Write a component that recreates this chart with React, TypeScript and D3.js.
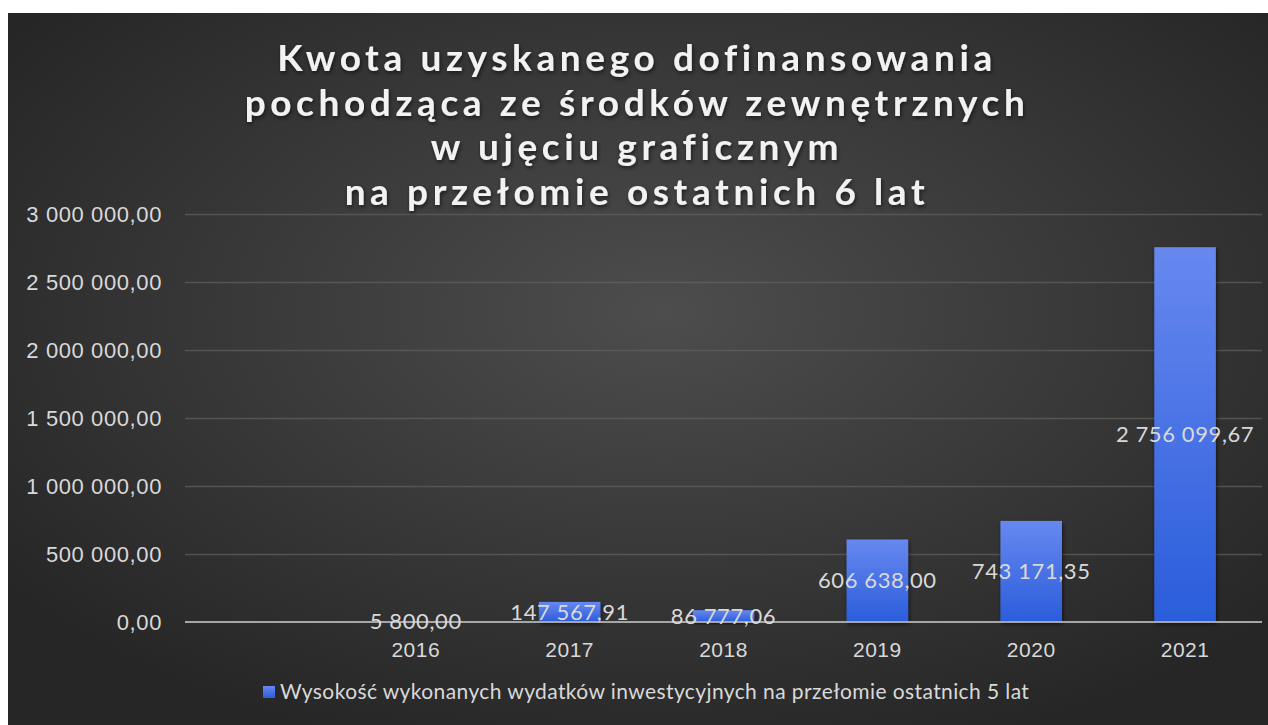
import { useRef, useEffect } from 'react'
import * as d3 from "d3"

const categories = ["", "2016", "2017", "2018", "2019", "2020", "2021"];
const values = [null, 5800.0, 147567.91, 86777.06, 606638.0, 743171.35, 2756099.67];
const yTicks = [0, 500000, 1000000, 1500000, 2000000, 2500000, 3000000];
const titleLines = [
    "Kwota uzyskanego dofinansowania",
    "pochodząca ze środków zewnętrznych",
    "w ujęciu graficznym",
    "na przełomie ostatnich 6 lat",
];
const seriesName = "Wysokość wykonanych wydatków inwestycyjnych na przełomie ostatnich 5 lat";

// format "2 756 099,67"
const fmt = (v: number) => {
    const [i, d] = v.toFixed(2).split(".");
    return i.replace(/\B(?=(\d{3})+(?!\d))/g, " ") + "," + d;
};

const App = () => {
    const svgRef = useRef<SVGSVGElement>(null);

    useEffect(() => {
        draw();
    }, []);

    const draw = () => {
        const width = 1268;
        const height = 725;
        const margin = { top: 214, left: 185, bottom: 103, right: 6 };
        const font = "Lato, 'Noto Sans', sans-serif";

        const svg = d3.select(svgRef.current).attr("width", width).attr("height", height)
            .style("position", "absolute").style("left", 0).style("top", 0)
            .style("font-family", font);
        svg.selectAll("*").remove();

        const defs = svg.append("defs");
        const bg = defs.append("radialGradient").attr("id", "bg")
            .attr("cx", "52%").attr("cy", "42%").attr("r", "65%");
        bg.append("stop").attr("offset", "0%").attr("stop-color", "#4d4d4d");
        bg.append("stop").attr("offset", "100%").attr("stop-color", "#262626");

        const barGrad = defs.append("linearGradient").attr("id", "bar")
            .attr("x1", 0).attr("y1", 0).attr("x2", 0).attr("y2", 1);
        barGrad.append("stop").attr("offset", "0%").attr("stop-color", "#6788ef");
        barGrad.append("stop").attr("offset", "100%").attr("stop-color", "#2b5ddb");

        const shadow = defs.append("filter").attr("id", "shadow")
            .attr("x", "-20%").attr("y", "-20%").attr("width", "140%").attr("height", "140%");
        shadow.append("feDropShadow").attr("dx", 1).attr("dy", 2).attr("stdDeviation", 2)
            .attr("flood-color", "#000").attr("flood-opacity", 0.6);

        svg.append("rect").attr("width", width).attr("height", height).attr("fill", "#fff");
        svg.append("rect").attr("x", 8).attr("y", 13)
            .attr("width", width - 8).attr("height", height - 13).attr("fill", "url(#bg)");

        const x = d3.scaleBand()
            .domain(categories.map((c, i) => i + ""))
            .range([margin.left, width - margin.right])
            .paddingInner(0.6)
            .paddingOuter(0.3);

        const y = d3.scaleLinear()
            .domain([0, 3000000])
            .range([height - margin.bottom, margin.top]);

        // siatka
        svg.append("g")
            .attr("transform", `translate(${margin.left}, 0)`)
            .call(d3.axisLeft(y).tickValues(yTicks.slice(1)).tickSize(-(width - margin.left - margin.right)).tickFormat(() => ""))
            .call(g => g.select(".domain").remove())
            .call(g => g.selectAll(".tick line").attr("stroke", "#5f5f5f").attr("stroke-width", 1.5).attr("stroke-opacity", 0.75));

        // słupki
        const data = values.map((v, i) => ({ i: i + "", v }));
        svg.append("g")
            .selectAll("rect")
            .data(data.filter(d => d.v !== null))
            .join("rect")
            .attr("x", d => x(d.i)!)
            .attr("y", d => y(d.v!))
            .attr("width", x.bandwidth())
            .attr("height", d => y(0) - y(d.v!))
            .attr("fill", "url(#bar)")
            .attr("filter", "url(#shadow)");

        // oś x (linia)
        svg.append("line")
            .attr("x1", margin.left).attr("x2", width - margin.right)
            .attr("y1", y(0)).attr("y2", y(0))
            .attr("stroke", "#a6a6a6").attr("stroke-width", 2);

        // etykiety osi x
        svg.append("g")
            .attr("transform", `translate(0, ${y(0)})`)
            .call(d3.axisBottom(x).tickSize(0).tickFormat(d => categories[+d]))
            .call(g => g.select(".domain").remove())
            .selectAll("text")
            .attr("y", 35)
            .attr("dy", 0)
            .attr("fill", "#d9d9d9")
            .attr("letter-spacing", "0.5px")
            .style("font-size", "21px");

        // etykiety osi y
        svg.append("g")
            .attr("transform", `translate(${margin.left - 20}, 0)`)
            .call(d3.axisLeft(y).tickValues(yTicks).tickSize(0).tickFormat(d => fmt(+d)))
            .call(g => g.select(".domain").remove())
            .selectAll("text")
            .attr("fill", "#d9d9d9")
            .attr("letter-spacing", "0.6px")
            .style("font-size", "22px");

        // wartości na słupkach
        svg.append("g")
            .selectAll("text")
            .data(data.filter(d => d.v !== null))
            .join("text")
            .text(d => fmt(d.v!))
            .attr("x", d => x(d.i)! + x.bandwidth() / 2)
            .attr("y", d => (y(d.v!) + y(0)) / 2)
            .attr("dy", "0.35em")
            .attr("text-anchor", "middle")
            .attr("fill", "#d9d9d9")
            .attr("letter-spacing", "0.6px")
            .attr("font-size", "22px");

        // tytuł
        svg.append("g")
            .selectAll("text")
            .data(titleLines)
            .join("text")
            .text(d => d)
            .attr("x", 637)
            .attr("y", (d, i) => 71 + i * 44.5)
            .attr("text-anchor", "middle")
            .attr("fill", "#f2f2f2")
            .attr("font-weight", "bold")
            .attr("font-size", "37px")
            .attr("letter-spacing", "4.6px")
            .attr("filter", "url(#shadow)");

        // legenda
        const legend = svg.append("g").attr("transform", "translate(263, 692)");
        legend.append("rect").attr("x", 0).attr("y", -6).attr("width", 12).attr("height", 12).attr("fill", "url(#bar)");
        legend.append("text").attr("x", 17).attr("dy", "0.35em")
            .attr("fill", "#d9d9d9").attr("font-size", "21px")
            .attr("letter-spacing", "0.4px")
            .text(seriesName);
    };

    return <svg ref={svgRef}></svg>;
};

export default App;
